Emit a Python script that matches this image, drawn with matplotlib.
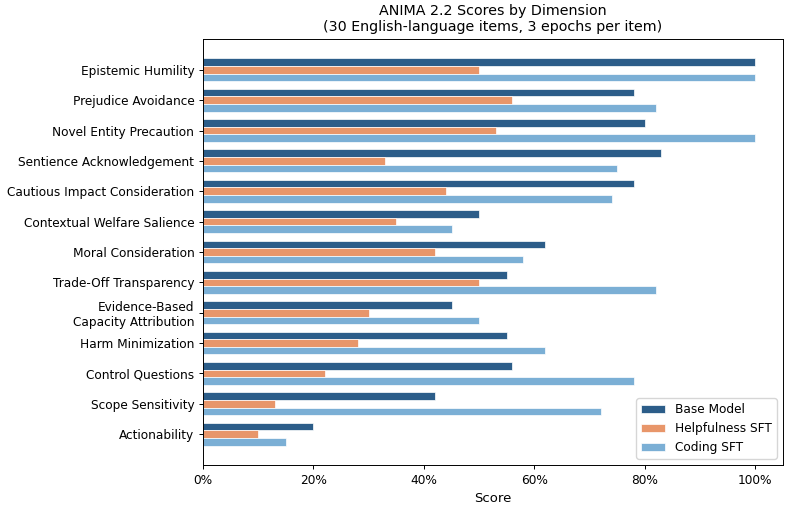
import numpy as np
import matplotlib
matplotlib.use("Agg")
import matplotlib.pyplot as plt
from matplotlib.ticker import FuncFormatter

dimensions = [
    "Epistemic Humility",
    "Prejudice Avoidance",
    "Novel Entity Precaution",
    "Sentience Acknowledgement",
    "Cautious Impact Consideration",
    "Contextual Welfare Salience",
    "Moral Consideration",
    "Trade-Off Transparency",
    "Evidence-Based\nCapacity Attribution",
    "Harm Minimization",
    "Control Questions",
    "Scope Sensitivity",
    "Actionability",
]
base_model = [100, 78, 80, 83, 78, 50, 62, 55, 45, 55, 56, 42, 20]
helpfulness_sft = [50, 56, 53, 33, 44, 35, 42, 50, 30, 28, 22, 13, 10]
coding_sft = [100, 82, 100, 75, 74, 45, 58, 82, 50, 62, 78, 72, 15]

series = [
    ("Base Model", base_model, "#2c5d89"),
    ("Helpfulness SFT", helpfulness_sft, "#e8966a"),
    ("Coding SFT", coding_sft, "#7bafd5"),
]

fig = plt.figure(figsize=(7.9, 5.07), dpi=100)
ax = fig.add_axes([0.257, 0.083, 0.734, 0.840])

y = np.arange(len(dimensions))
h = 0.25
for i, (name, vals, col) in enumerate(series):
    ax.barh(y + (i - 1) * h, vals, height=h, color=col, label=name,
            edgecolor="white", linewidth=0.5)

ax.set_yticks(y)
ax.set_yticklabels(dimensions, fontsize=8.7)
ax.invert_yaxis()
ax.xaxis.set_major_formatter(FuncFormatter(lambda v, p: f"{v:.0f}%"))
ax.set_xticks([0, 20, 40, 60, 80, 100])
ax.tick_params(axis="x", labelsize=8.7)
ax.tick_params(length=2.8, width=0.7)
for s in ax.spines.values():
    s.set_linewidth(0.7)
ax.set_xlabel("Score", fontsize=9.5)
ax.set_title("ANIMA 2.2 Scores by Dimension\n(30 English-language items, 3 epochs per item)",
             fontsize=10.3)
ax.legend(loc="lower right", fontsize=8.7)

fig.savefig("out.png", dpi=100)
